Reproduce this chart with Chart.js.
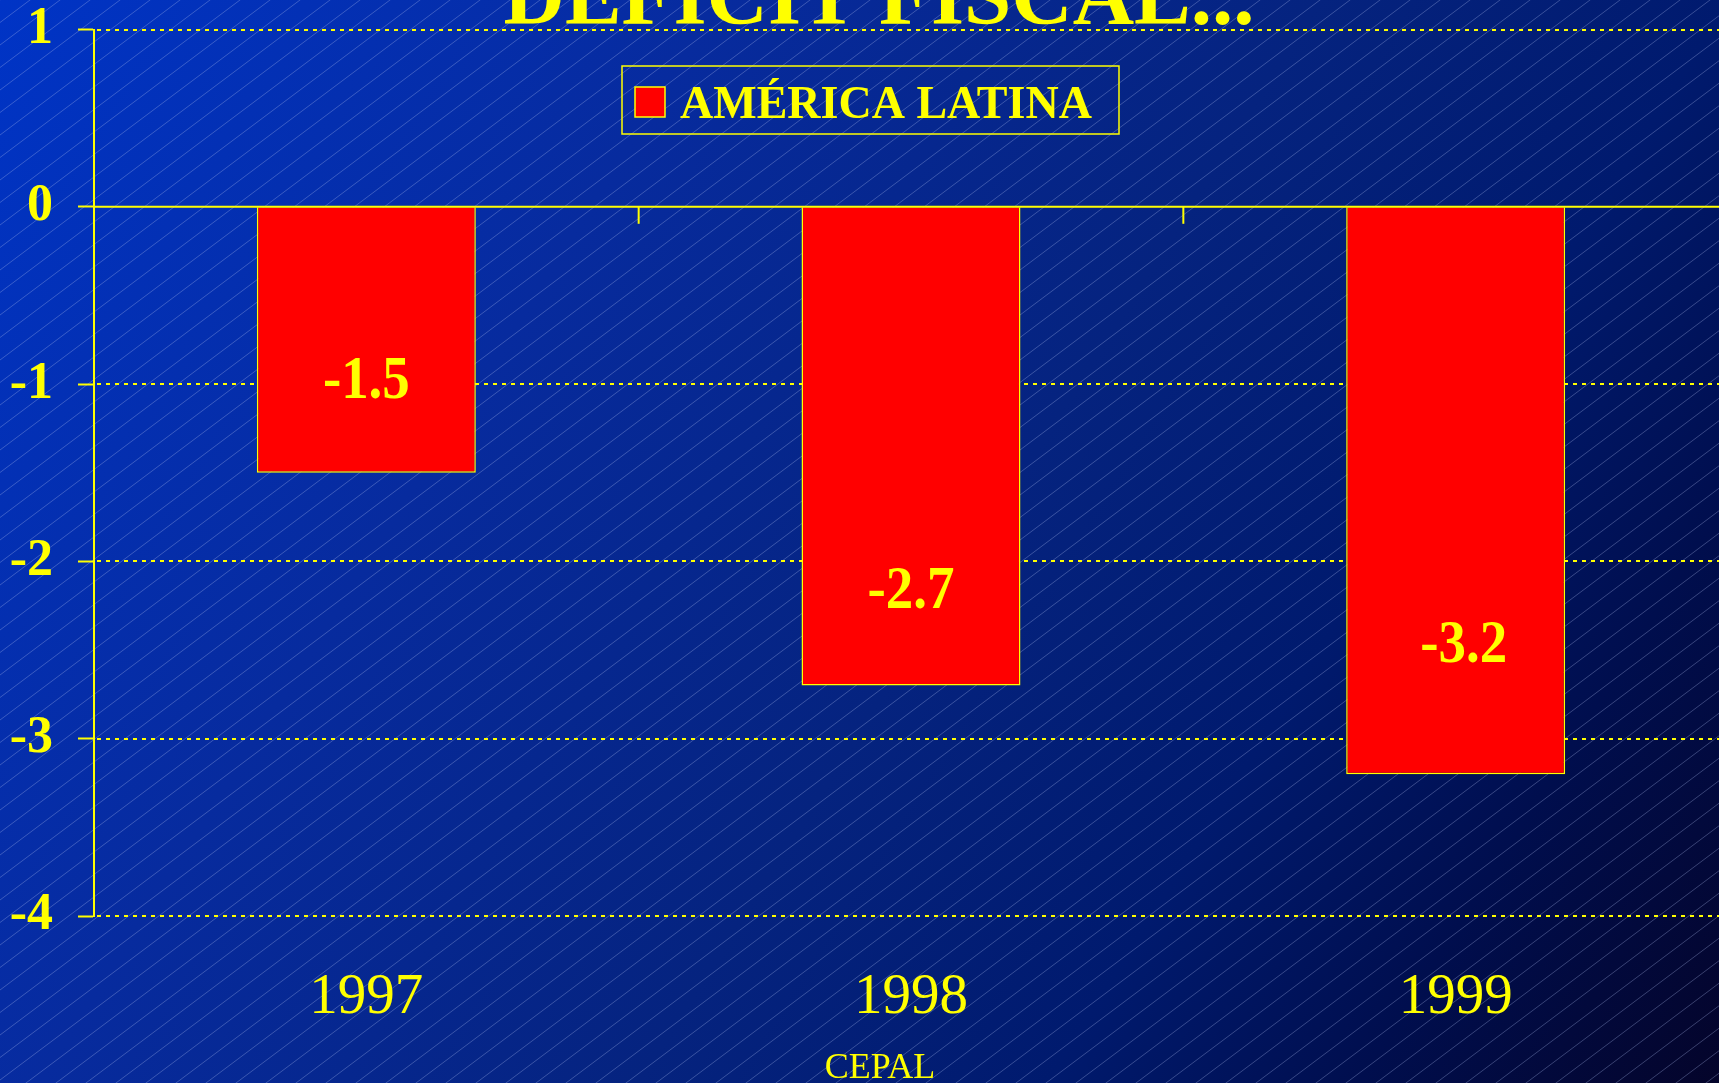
<!DOCTYPE html>
<html>
<head>
<meta charset="utf-8">
<script src="https://cdn.jsdelivr.net/npm/chart.js@4/dist/chart.umd.min.js"></script>
<style>
  html, body { margin: 0; padding: 0; overflow: hidden; background: #001a70; }
  #wrap { width: 1728px; height: 1083px; }
</style>
</head>
<body>
<div id="wrap"><canvas id="c" width="1728" height="1083"></canvas></div>
<script>
// ---- data ----
const categories = ['1997', '1998', '1999'];
const deficit = [-1.5, -2.7, -3.2];
const seriesName = 'AMÉRICA LATINA';
const yMin = -4;
const yMax = 1;
const yStep = 1;
const chartTitle = 'DÉFICIT FISCAL...';
const sourceText = 'CEPAL';

const YELLOW = '#FFFF00';
const SERIF = "'Liberation Serif', 'Times New Roman', serif";

const decor = {
  id: 'decor',
  beforeDraw(chart) {
    const ctx = chart.ctx;
    const W = 1719, H = chart.height;
    ctx.save();
    const g = ctx.createLinearGradient(0, 0, W, H);
    g.addColorStop(0, '#0034C6');
    g.addColorStop(0.3, '#072B9E');
    g.addColorStop(0.55, '#05237F');
    g.addColorStop(0.72, '#001A6E');
    g.addColorStop(0.85, '#000E4E');
    g.addColorStop(1, '#04042A');
    ctx.fillStyle = g;
    ctx.fillRect(0, 0, chart.width, H);
    // diagonal hatch
    ctx.strokeStyle = 'rgba(175,190,240,0.32)';
    ctx.lineWidth = 1;
    ctx.beginPath();
    const slope = 0.75, step = 22.5;
    for (let c = 0; c < H + slope * chart.width + step; c += step) {
      ctx.moveTo(0, c);
      ctx.lineTo(chart.width, c - slope * chart.width);
    }
    ctx.stroke();
    ctx.restore();
  },
  beforeDatasetsDraw(chart) {
    const ctx = chart.ctx;
    const y = chart.scales.y;
    const a = chart.chartArea;
    ctx.save();
    ctx.strokeStyle = YELLOW;
    ctx.lineWidth = 2;
    ctx.setLineDash([4, 5]);
    y.ticks.forEach(t => {
      if (t.value === 0) return;
      const py = Math.round(y.getPixelForValue(t.value));
      ctx.beginPath();
      ctx.moveTo(a.left + 3, py);
      ctx.lineTo(a.right, py);
      ctx.stroke();
    });
    ctx.restore();
  },
  afterDatasetsDraw(chart) {
    const ctx = chart.ctx;
    const x = chart.scales.x, y = chart.scales.y;
    const a = chart.chartArea;
    const y0 = y.getPixelForValue(0);
    ctx.save();
    // zero line
    ctx.strokeStyle = YELLOW;
    ctx.lineWidth = 2;
    ctx.beginPath();
    ctx.moveTo(a.left, y0);
    ctx.lineTo(a.right, y0);
    ctx.stroke();
    // category boundary ticks on zero line
    for (let i = 0; i < categories.length - 1; i++) {
      const bx = (x.getPixelForValue(i) + x.getPixelForValue(i + 1)) / 2;
      ctx.beginPath();
      ctx.moveTo(bx, y0);
      ctx.lineTo(bx, y0 + 17);
      ctx.stroke();
    }
    // value labels
    const opt = chart.options.plugins.decor;
    const meta = chart.getDatasetMeta(0);
    ctx.fillStyle = YELLOW;
    ctx.font = 'bold 61px ' + SERIF;
    ctx.textAlign = 'center';
    ctx.textBaseline = 'middle';
    meta.data.forEach((bar, i) => {
      const ly = bar.base + (bar.y - bar.base) * opt.labelFraction[i];
      ctx.save();
      ctx.translate(bar.x + opt.labelShift[i], ly);
      ctx.scale(0.9, 1);
      ctx.fillText(deficit[i].toFixed(1), 0, 2);
      ctx.restore();
    });
    // legend
    const ds = chart.data.datasets[0];
    ctx.lineWidth = 1.5;
    ctx.strokeRect(622, 66, 497, 68);
    ctx.fillStyle = ds.backgroundColor;
    ctx.fillRect(635, 87, 30, 30);
    ctx.strokeRect(635, 87, 30, 30);
    ctx.fillStyle = YELLOW;
    ctx.font = 'bold 46px ' + SERIF;
    ctx.textAlign = 'left';
    ctx.textBaseline = 'alphabetic';
    ctx.fillText(ds.label, 680, 118);
    // title (cut at top edge)
    ctx.font = 'bold 85px ' + SERIF;
    ctx.textAlign = 'center';
    ctx.fillText(chartTitle, 879, 24);
    // source
    ctx.font = '36px ' + SERIF;
    ctx.fillText(sourceText, 880, 1078);
    ctx.restore();
  }
};

new Chart(document.getElementById('c'), {
  type: 'bar',
  data: {
    labels: categories,
    datasets: [{
      label: seriesName,
      data: deficit,
      backgroundColor: '#FF0000',
      borderColor: YELLOW,
      borderWidth: 1.5,
      categoryPercentage: 1,
      barPercentage: 0.402
    }]
  },
  options: {
    responsive: false,
    animation: false,
    devicePixelRatio: 1,
    layout: { padding: { top: 29.5, left: 0, right: 0, bottom: 0 } },
    plugins: {
      legend: { display: false },
      tooltip: { enabled: false },
      title: { display: false },
      decor: { labelFraction: [0.65, 0.80, 0.77], labelShift: [0, 0, 8] }
    },
    scales: {
      x: {
        grid: { display: false, drawTicks: false },
        border: { display: false },
        ticks: {
          color: YELLOW,
          font: { family: SERIF, size: 57, lineHeight: 1.2 },
          padding: 48
        },
        afterFit: s => { s.height = 167; s.paddingLeft = 0; s.paddingRight = 0; }
      },
      y: {
        min: yMin,
        max: yMax,
        grid: {
          drawOnChartArea: false,
          drawTicks: true,
          tickLength: 16,
          tickColor: YELLOW,
          tickWidth: 2,
          color: YELLOW
        },
        border: { display: true, color: YELLOW, width: 2 },
        ticks: {
          stepSize: yStep,
          color: YELLOW,
          font: { family: SERIF, size: 52, weight: 'bold', lineHeight: 1 },
          padding: 25
        },
        afterFit: s => { s.width = 94; s.paddingTop = 0; s.paddingBottom = 0; }
      }
    }
  },
  plugins: [decor]
});
</script>
</body>
</html>
